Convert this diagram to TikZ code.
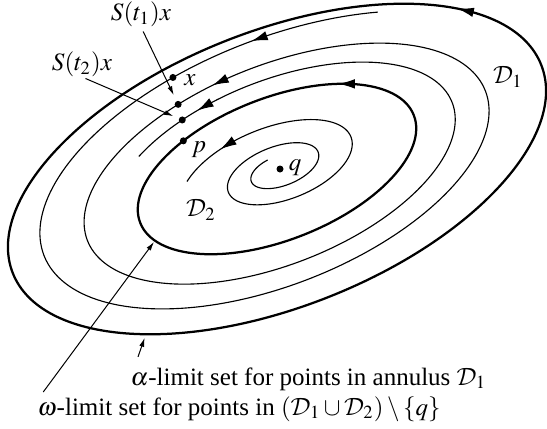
\documentclass[tikz,border=0pt]{standalone}
\usepackage{mathptmx}
\usepackage{fontspec}
\setmainfont{Liberation Serif}
\DeclareMathAlphabet{\mathcal}{OMS}{cmsy}{m}{n}
\usetikzlibrary{arrows.meta}

\begin{document}
\begin{tikzpicture}[
  x=0.4pt, y=0.4pt,
  declare function={
    sone(\t)=0.484+0.469*exp(-0.001483*(\t-56));
    stwo(\t)=0.0483+0.1417*exp(0.00198*(\t-107));
  },
  limitset/.style={line width=0.9pt},
  orbit/.style={line width=0.45pt},
  flow/.style={-{Latex[length=6.5pt,width=3.8pt]}},
  pointer/.style={line width=0.4pt, -{Latex[length=3.6pt,width=2pt]}},
  dot/.style={circle, fill, inner sep=0pt, minimum size=2.8pt},
  lbl/.style={inner sep=0pt},
]
\useasboundingbox (0,0) rectangle (547,428);

\begin{scope}[shift={(277,259)}, rotate=21.5]
  \draw[limitset] (0,0) ellipse [x radius=284, y radius=138];
  \draw[limitset] (0,0) ellipse [x radius=147, y radius=71];
  \draw[orbit, flow] ({284*cos(33)}, {138*sin(33)}) -- ({284*cos(37)}, {138*sin(37)});
  \draw[orbit, flow] ({147*cos(48)}, {71*sin(48)}) -- ({147*cos(53)}, {71*sin(53)});
  \draw[orbit] plot[domain=56:854, samples=400, variable=\t]
    ({284*sone(\t)*cos(\t)}, {138*sone(\t)*sin(\t)});
  \foreach \a in {85,458,827}
    \draw[orbit, flow] ({284*sone(\a-3)*cos(\a-3)}, {138*sone(\a-3)*sin(\a-3)})
      -- ({284*sone(\a)*cos(\a)}, {138*sone(\a)*sin(\a)});
  \node[dot] (x)   at ({284*sone(104)*cos(104)}, {138*sone(104)*sin(104)}) {};
  \node[dot] (st1x) at ({284*sone(469)*cos(469)}, {138*sone(469)*sin(469)}) {};
  \node[dot] (st2x) at ({284*sone(833)*cos(833)}, {138*sone(833)*sin(833)}) {};
  \node[dot] (p)   at ({147*cos(121.5)}, {71*sin(121.5)}) {};
  \coordinate (atip) at ({284*cos(230)}, {138*sin(230)});
  \coordinate (wtip) at ({147*cos(198)}, {71*sin(198)});
\end{scope}

\begin{scope}[shift={(280,259)}, rotate=21.5]
  \draw[orbit] plot[domain=107:873, samples=400, variable=\t]
    ({147*stwo(\t)*cos(\t)}, {71*stwo(\t)*sin(\t)});
  \draw[orbit, flow] ({147*stwo(836)*cos(836)}, {71*stwo(836)*sin(836)})
    -- ({147*stwo(840)*cos(840)}, {71*stwo(840)*sin(840)});
  \node[dot] (q) at (0,0) {};
\end{scope}

\node[lbl] (st1) at (141,414) {$S(t_1)x$};
\node[lbl] (st2) at (82,364) {$S(t_2)x$};
\node[lbl] (xl) at (190,348) {$x$};
\node[lbl] (pl) at (199,278) {$p$};
\node[lbl] (ql) at (295,260) {$q$};
\node[lbl] (d1) at (508,351) {$\mathcal{D}_1$};
\node[lbl] (d2) at (201,218) {$\mathcal{D}_2$};
\node[lbl, anchor=base west] (alpha) at (130,43)
  {$\alpha$-limit set for points in annulus $\mathcal{D}_1$};
\node[lbl, anchor=base west] (omega) at (37,13)
  {$\omega$-limit set for points in $(\mathcal{D}_1\cup\mathcal{D}_2)\setminus\{q\}$};

\draw[pointer, shorten <=2pt, shorten >=2.5pt] (st1.south) -- (st1x);
\draw[pointer, shorten <=1.5pt, shorten >=2.3pt] (st2.south) -- (st2x);
\draw[pointer, shorten >=1.5pt] ([xshift=3.2pt,yshift=4pt]alpha.north west) -- (atip);
\draw[pointer, shorten >=0.6pt] ([xshift=2.5pt,yshift=1.5pt]omega.north west) -- (wtip);
\end{tikzpicture}
\end{document}
